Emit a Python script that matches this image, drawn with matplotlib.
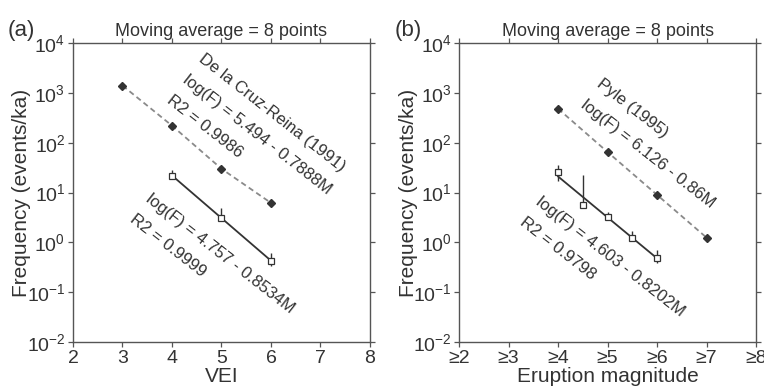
import matplotlib
matplotlib.use("Agg")
import matplotlib.pyplot as plt
import numpy as np

plt.rcParams["font.family"] = ["Liberation Sans", "DejaVu Sans"]
plt.rcParams["mathtext.fontset"] = "custom"
plt.rcParams["mathtext.rm"] = "Liberation Sans"
plt.rcParams["mathtext.it"] = "Liberation Sans:italic"

TXT = "#333333"
SPINE = "#555555"

# ---- panel (a): VEI ----
vei_ref_x = [3, 4, 5, 6]
vei_ref_y = [1400, 220, 30, 6.2]           # De la Cruz-Reina (1991)
vei_x = [4, 5, 6]
vei_y = [21.5, 3.1, 0.42]
vei_err_lo = [0.0, 0.0, 0.09]
vei_err_hi = [7.0, 1.8, 0.18]
vei_fit_x = [4, 6]
vei_fit_y = [22.0, 0.43]

# ---- panel (b): eruption magnitude ----
mag_ref_x = [4, 5, 6, 7]
mag_ref_y = [480, 65, 9.0, 1.25]            # Pyle (1995)
mag_x = [4, 4.5, 5, 5.5, 6]
mag_y = [26, 5.6, 3.2, 1.2, 0.48]
mag_err_lo = [9.0, 0.0, 0.0, 0.0, 0.1]
mag_err_hi = [9.0, 17.0, 0.9, 0.5, 0.22]
mag_fit_x = [4, 6]
mag_fit_y = [21.0, 0.48]

mag_ticklabels = ["≥2", "≥3", "≥4", "≥5", "≥6", "≥7", "≥8"]

fig = plt.figure(figsize=(7.64, 3.91), dpi=100)
ax_a = fig.add_axes([0.0955, 0.125, 0.3888, 0.765])
ax_b = fig.add_axes([0.601, 0.125, 0.3885, 0.765])


def style_axes(ax):
    ax.set_yscale("log")
    ax.set_xlim(2, 8)
    ax.set_ylim(1e-2, 1e4)
    ax.set_xticks(range(2, 9))
    ax.set_yticks([1e-2, 1e-1, 1e0, 1e1, 1e2, 1e3, 1e4])
    ax.set_yticklabels([r"$10^{%d}$" % e for e in range(-2, 5)])
    ax.minorticks_off()
    ax.tick_params(which="both", direction="out", length=3.5, width=0.9,
                   colors=SPINE, labelcolor=TXT, labelsize=14,
                   top=True, right=True, pad=2)
    for s in ax.spines.values():
        s.set_color(SPINE)
        s.set_linewidth(1.0)
    ax.set_title("Moving average = 8 points", fontsize=13, color=TXT, pad=5)
    ax.set_ylabel("Frequency (events/ka)", fontsize=15, color=TXT)
    ax.yaxis.set_label_coords(-0.14, 0.5)


def draw_series(ax, rx, ry, x, y, lo, hi, fx, fy):
    ax.plot(rx, ry, ls=(0, (3, 2)), color="#8a8a8a", lw=1.3, zorder=2)
    ax.plot(rx, ry, ls="none", marker="D", ms=4.5, color="#333333", zorder=3)
    ax.plot(fx, fy, color="#333333", lw=1.3, zorder=2)
    ax.errorbar(x, y, yerr=[lo, hi], fmt="none", ecolor="#333333",
                elinewidth=1.0, capsize=0, zorder=3)
    ax.plot(x, y, ls="none", marker="s", ms=5, mfc="white", mec="#333333",
            mew=0.9, zorder=4)


draw_series(ax_a, vei_ref_x, vei_ref_y, vei_x, vei_y, vei_err_lo, vei_err_hi,
            vei_fit_x, vei_fit_y)
draw_series(ax_b, mag_ref_x, mag_ref_y, mag_x, mag_y, mag_err_lo, mag_err_hi,
            mag_fit_x, mag_fit_y)

style_axes(ax_a)
style_axes(ax_b)
ax_a.set_xlabel("VEI", fontsize=15, color=TXT, labelpad=0)
ax_b.set_xlabel("Eruption magnitude", fontsize=15, color=TXT, labelpad=0)
ax_b.set_xticklabels(mag_ticklabels)

ann = dict(rotation=-38, rotation_mode="anchor", ha="center", va="center",
           multialignment="left", fontsize=12, color=TXT, linespacing=1.9)
ax_a.text(5.72, 148, "De la Cruz-Reina (1991)\nlog(F) = 5.494 - 0.7888M\nR2 = 0.9986", **ann)
ax_a.text(4.82, 0.37, "log(F) = 4.757 - 0.8534M\nR2 = 0.9999", **ann)
ax_b.text(5.98, 96, "Pyle (1995)\nlog(F) = 6.126 - 0.86M", **ann)
ax_b.text(4.885, 0.32, "log(F) = 4.603 - 0.8202M\nR2 = 0.9798", **ann)

fig.text(0.010, 0.923, "(a)", fontsize=16, color=TXT, va="center")
fig.text(0.516, 0.923, "(b)", fontsize=16, color=TXT, va="center")

fig.savefig("out.png", dpi=100)
